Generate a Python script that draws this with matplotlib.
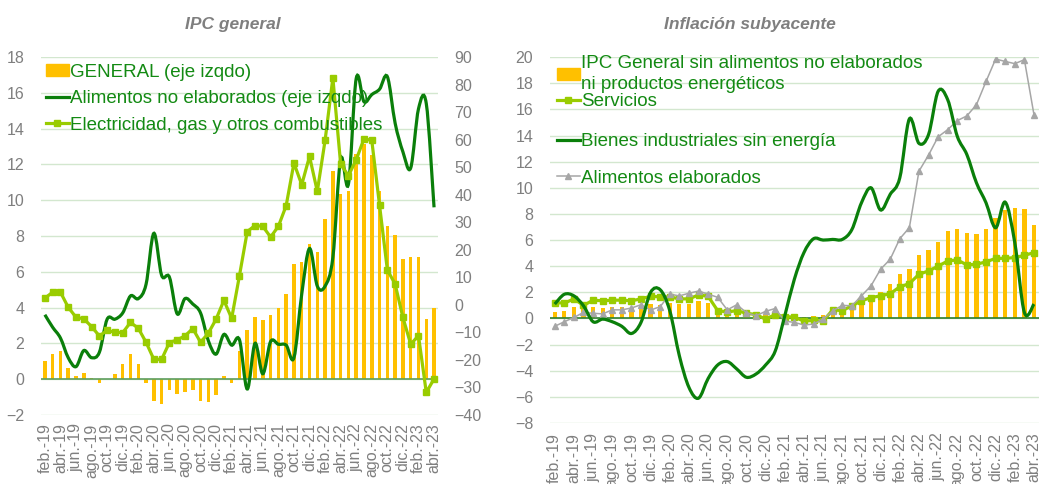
import numpy as np
import matplotlib
matplotlib.use('Agg')
import matplotlib.pyplot as plt
from matplotlib.path import Path
from matplotlib.patches import PathPatch, Patch
from matplotlib.lines import Line2D

plt.rcParams['font.family'] = ['Liberation Sans', 'DejaVu Sans']

# meses feb-19 .. abr-23
meses = ['ene.', 'feb.', 'mar.', 'abr.', 'may.', 'jun.', 'jul.', 'ago.', 'sep.', 'oct.', 'nov.', 'dic.']
fechas = [m + '-' + str(a) for a in range(19, 24) for m in meses][1:52]

# IPC general (eje izqdo)
general = [1.0, 1.4, 1.55, 0.65, 0.2, 0.37, 0.05, -0.2, 0.0, 0.28,
           0.87, 1.43, 0.87, -0.2, -1.2, -1.4, -0.6, -0.8, -0.7, -0.6,
           -1.2, -1.3, -0.9, 0.2, -0.2, 1.6, 2.75, 3.48, 3.33, 3.56,
           3.95, 4.75, 6.46, 6.55, 7.54, 7.13, 8.94, 11.64, 10.34, 10.52,
           12.6, 13.13, 12.53, 10.52, 8.53, 8.04, 6.74, 6.83, 6.83, 3.35,
           3.97]
alim_no_elab = [3.6, 2.9, 2.3, 1.2, 0.7, 1.6, 1.2, 1.5, 3.35, 3.35,
                3.7, 4.65, 4.5, 5.3, 8.15, 5.8, 5.7, 3.65, 4.5, 4.2,
                3.7, 2.15, 1.4, 2.5, 1.9, 2.2, -0.55, 2.0, 0.3, 2.1,
                1.95, 1.9, 1.2, 4.75, 7.3, 5.2, 5.2, 6.8, 12.3, 10.9,
                16.8, 15.5, 15.9, 16.2, 16.9, 14.3, 12.7, 11.8, 15.1, 15.4,
                9.6]
# eje dcho
electricidad = [2.4, 4.6, 4.6, -0.9, -4.5, -5.1, -7.9, -11.3, -9.3, -9.95,
                -10.1, -6.4, -8.5, -13.6, -19.8, -19.8, -13.7, -12.7, -11.3, -8.6,
                -13.6, -10.3, -5.2, 1.6, -4.9, 10.6, 26.6, 28.8, 28.5, 24.6,
                28.5, 36.0, 51.5, 43.6, 53.9, 41.2, 59.7, 82.4, 51.1, 46.9,
                52.7, 60.3, 59.7, 36.1, 12.7, 7.5, -4.6, -14.3, -11.2, -31.8,
                -26.9]

# Inflacion subyacente
subyacente = [0.5, 0.6, 0.87, 0.75, 0.87, 0.8, 0.87, 0.87, 0.8, 0.87,
              1.07, 1.0, 1.2, 1.07, 1.07, 1.3, 1.2, 0.45, 0.3, 0.5,
              0.2, 0.2, 0.36, 0.5, 0.2, 0.15, 0.15, 0.2, 0.28, 0.46,
              0.71, 1.04, 1.35, 1.48, 2.06, 2.62, 3.38, 3.77, 4.86, 5.24,
              5.88, 6.67, 6.87, 6.56, 6.49, 6.87, 7.7, 8.27, 8.47, 8.35,
              7.15]
servicios = [1.22, 1.17, 1.5, 1.0, 1.4, 1.35, 1.4, 1.4, 1.35, 1.5,
             1.7, 1.65, 1.65, 1.5, 1.5, 1.8, 1.7, 0.6, 0.5, 0.6,
             0.4, 0.3, -0.05, 0.3, 0.15, 0.1, -0.2, -0.15, -0.2, 0.66,
             0.6, 0.97, 1.35, 1.6, 1.73, 1.9, 2.42, 2.67, 3.38, 3.64,
             4.0, 4.4, 4.48, 4.1, 4.15, 4.33, 4.6, 4.6, 4.66, 4.83,
             5.04]
bienes_ind = [1.1, 1.85, 1.73, 0.97, -0.25, -0.05, -0.25, -0.6, -1.15, -0.3,
              2.0, 2.2, 0.6, -2.85, -5.27, -6.1, -4.6, -3.56, -3.3, -3.87,
              -4.5, -4.25, -3.56, -2.5, 0.2, 3.0, 5.04, 6.1, 6.0, 6.05,
              6.05, 6.8, 8.85, 10.0, 8.3, 9.5, 10.76, 15.27, 13.4, 14.07,
              17.38, 16.74, 13.94, 12.54, 10.38, 8.85, 6.94, 8.9, 5.8, 0.46,
              1.1]
alim_elab = [-0.6, -0.25, 0.08, 0.46, 0.4, 0.35, 0.66, 0.66, 0.8, 1.05,
             0.65, 0.9, 1.86, 1.73, 1.93, 2.1, 1.86, 1.62, 0.66, 1.05,
             0.45, 0.2, 0.55, 0.76, -0.2, -0.3, -0.5, -0.43, -0.05, 0.58,
             1.0, 0.97, 1.73, 2.5, 3.77, 4.53, 6.1, 6.95, 11.27, 12.5,
             13.9, 14.45, 15.14, 15.5, 16.36, 18.14, 19.85, 19.67, 19.5, 19.8,
             15.6]

NARANJA = '#FFC000'
VERDE = '#0A7F0A'
VERDE_CLARO = '#99CC00'
GRIS = '#A6A6A6'
TEXTO = '#138A13'
GRID = '#D3E7CF'
TICK = '#7F7F7F'


def linea_suave(ax, y, **kw):
    # curva suavizada tipo Excel (Catmull-Rom -> Bezier)
    x = np.arange(len(y))
    pts = np.column_stack([x, y]).astype(float)
    verts = [pts[0]]
    codes = [Path.MOVETO]
    n = len(pts)
    for i in range(n - 1):
        p0 = pts[i - 1] if i > 0 else pts[i]
        p1 = pts[i]
        p2 = pts[i + 1]
        p3 = pts[i + 2] if i + 2 < n else pts[i + 1]
        verts += [p1 + (p2 - p0) / 6, p2 - (p3 - p1) / 6, p2]
        codes += [Path.CURVE4] * 3
    ax.add_patch(PathPatch(Path(verts, codes), fill=False, **kw))


def estilo(ax, x):
    ax.set_xlim(-0.5, len(x) - 0.5)
    ax.set_xticks(x[::2])
    ax.set_xticklabels(fechas[::2], rotation=90)
    for s in ax.spines.values():
        s.set_visible(False)
    ax.yaxis.grid(True, color=GRID, lw=1)
    ax.set_axisbelow(True)
    ax.tick_params(length=0, colors=TICK, labelsize=11.5)
    ax.tick_params(axis='y', pad=12)
    ax.tick_params(axis='x', pad=6)


fig = plt.figure(figsize=(10.4, 4.84), dpi=100)
x = np.arange(len(fechas))

# ---- IPC general ----
ax1 = fig.add_axes([0.0394, 0.1426, 0.3817, 0.7397])
estilo(ax1, x)
ax1.bar(x, general, width=0.45, color=NARANJA, zorder=2)
ax1.axhline(0, color='#5E9E5E', lw=1.2, zorder=2)
linea_suave(ax1, alim_no_elab, edgecolor=VERDE, lw=2.3, zorder=4)
ax1.set_ylim(-2, 18)
ax1.set_yticks(np.arange(-2, 19, 2))

ax2 = ax1.twinx()
ax2.plot(x, electricidad, color=VERDE_CLARO, lw=2.3, marker='s', ms=4.5, zorder=3)
ax2.set_ylim(-40, 90)
ax2.set_yticks(np.arange(-40, 91, 10))
for s in ax2.spines.values():
    s.set_visible(False)
ax2.tick_params(length=0, colors=TICK, labelsize=11.5, pad=12)

h1 = [Patch(color=NARANJA),
      Line2D([], [], color=VERDE, lw=2.3),
      Line2D([], [], color=VERDE_CLARO, lw=2.3, marker='s', ms=4.5)]
l1 = ['GENERAL (eje izqdo)', 'Alimentos no elaborados (eje izqdo)',
      'Electricidad, gas y otros combustibles']
leg = ax2.legend(h1, l1, loc='upper left', bbox_to_anchor=(46 / 1040, 1 - 64 / 484),
                 bbox_transform=fig.transFigure, frameon=False, fontsize=13.5,
                 borderpad=0, borderaxespad=0, handlelength=1.2, handletextpad=0.1,
                 labelspacing=0.5, labelcolor=TEXTO, handleheight=0.6)

fig.text(233 / 1040, 1 - 25 / 484, 'IPC general', ha='center', va='center',
         fontsize=12.5, fontweight='bold', fontstyle='italic', color='#7F7F7F')

# ---- Inflacion subyacente ----
ax3 = fig.add_axes([0.5288, 0.126, 0.470, 0.756])
estilo(ax3, x)
ax3.tick_params(axis='x', pad=7)
ax3.bar(x, subyacente, width=0.45, color=NARANJA, zorder=2)
ax3.axhline(0, color='#2F7F2F', lw=1.2, zorder=2)
ax3.plot(x, servicios, color=VERDE_CLARO, lw=2.3, marker='s', ms=4.5, zorder=3)
ax3.plot(x, alim_elab, color=GRIS, lw=1.1, marker='^', ms=4.3, zorder=4)
linea_suave(ax3, bienes_ind, edgecolor=VERDE, lw=2.3, zorder=5)
ax3.set_ylim(-8, 20)
ax3.set_yticks(np.arange(-8, 21, 2))

ha = [Patch(color=NARANJA),
      Line2D([], [], color=VERDE_CLARO, lw=2.3, marker='s', ms=4)]
la = ['IPC General sin alimentos no elaborados\nni productos energéticos', 'Servicios']
legA = ax3.legend(ha, la, loc='upper left', bbox_to_anchor=(557 / 1040, 1 - 55 / 484),
                  bbox_transform=fig.transFigure, frameon=False, fontsize=13.5,
                  borderpad=0, borderaxespad=0, handlelength=1.2, handletextpad=0.1,
                  labelspacing=0.05, labelcolor=TEXTO, handleheight=0.6)
legA.get_texts()[0].set_linespacing(1.27)
ax3.add_artist(legA)
hb = [Line2D([], [], color=VERDE, lw=2.3),
      Line2D([], [], color=GRIS, lw=1.1, marker='^', ms=4.3)]
lb = ['Bienes industriales sin energía', 'Alimentos elaborados']
ax3.legend(hb, lb, loc='upper left', bbox_to_anchor=(557 / 1040, 1 - 133 / 484),
           bbox_transform=fig.transFigure, frameon=False, fontsize=13.5,
           borderpad=0, borderaxespad=0, handlelength=1.2, handletextpad=0.1,
           labelspacing=1.04, labelcolor=TEXTO)

fig.text(750 / 1040, 1 - 25 / 484, 'Inflación subyacente', ha='center', va='center',
         fontsize=12.5, fontweight='bold', fontstyle='italic', color='#7F7F7F')

fig.savefig('out.png', dpi=100)
